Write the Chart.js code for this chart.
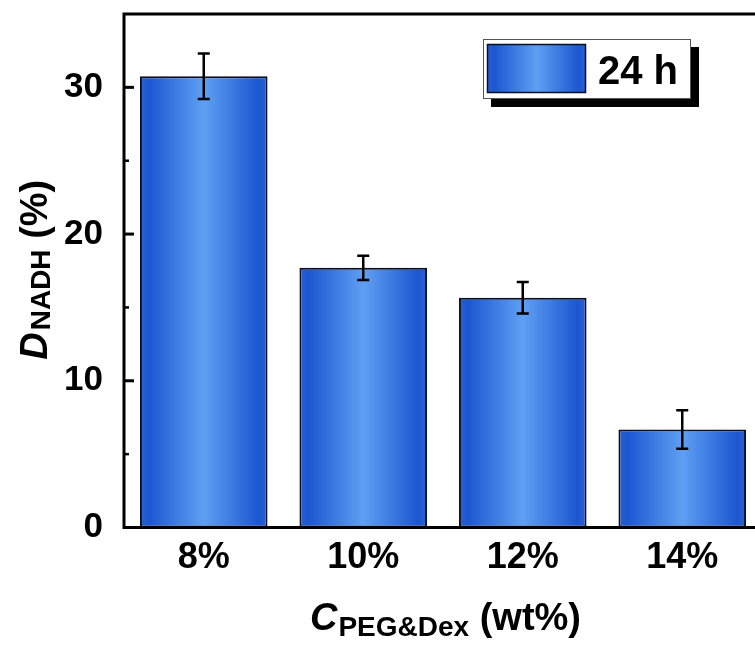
<!DOCTYPE html>
<html>
<head>
<meta charset="utf-8">
<script src="https://cdn.jsdelivr.net/npm/chart.js@4/dist/chart.umd.min.js"></script>
<style>
  html, body { margin: 0; padding: 0; overflow: hidden; background: #fff; width: 755px; height: 651px; }
  canvas { display: block; }
</style>
</head>
<body>
<canvas id="c" width="780" height="651" style="width:780px;height:651px"></canvas>
<script>
// Data
const categories = ['8%', '10%', '12%', '14%'];
const values = [30.75, 17.7, 15.66, 6.68];
const errors = [1.55, 0.83, 1.07, 1.31];
const yTickValues = [0, 10, 20, 30];
const yMinorTicks = [5, 15, 25];
const seriesLabel = '24 h';

const FONT = "'Liberation Sans', Arial, Helvetica, sans-serif";
const BAR_PCT = 0.8;

function blueGradient(ctx, x0, x1) {
  const g = ctx.createLinearGradient(x0, 0, x1, 0);
  g.addColorStop(0.00, '#2a62d2');
  g.addColorStop(0.07, '#1c57d1');
  g.addColorStop(0.50, '#5f9ff3');
  g.addColorStop(0.93, '#1c57d1');
  g.addColorStop(1.00, '#2a62d2');
  return g;
}

// Error bars, axis frame, inward ticks, legend and axis titles
const decorations = {
  id: 'decorations',
  afterDatasetsDraw(chart) {
    const { ctx, chartArea: ca, scales: { x, y } } = chart;
    ctx.save();

    // error bars
    ctx.strokeStyle = '#000';
    ctx.lineWidth = 2.5;
    values.forEach((v, i) => {
      const cx = x.getPixelForValue(i);
      const yTop = y.getPixelForValue(v + errors[i]);
      const yBot = y.getPixelForValue(v - errors[i]);
      ctx.beginPath();
      ctx.moveTo(cx, yTop); ctx.lineTo(cx, yBot);
      ctx.moveTo(cx - 6, yTop); ctx.lineTo(cx + 6, yTop);
      ctx.moveTo(cx - 6, yBot); ctx.lineTo(cx + 6, yBot);
      ctx.stroke();
    });

    // frame
    ctx.lineWidth = 3;
    ctx.beginPath();
    ctx.moveTo(ca.left, ca.top); ctx.lineTo(ca.right, ca.top);
    ctx.moveTo(ca.left, ca.top - 1.5); ctx.lineTo(ca.left, ca.bottom + 1.5);
    ctx.moveTo(ca.left, ca.bottom); ctx.lineTo(ca.right, ca.bottom);
    ctx.moveTo(ca.right, ca.top); ctx.lineTo(ca.right, ca.bottom);
    ctx.stroke();

    // inward ticks on the y axis
    ctx.lineWidth = 3;
    yTickValues.forEach(v => {
      const py = y.getPixelForValue(v);
      ctx.beginPath(); ctx.moveTo(ca.left, py); ctx.lineTo(ca.left + 10, py); ctx.stroke();
    });
    ctx.lineWidth = 2.5;
    yMinorTicks.forEach(v => {
      const py = y.getPixelForValue(v);
      ctx.beginPath(); ctx.moveTo(ca.left, py); ctx.lineTo(ca.left + 5, py); ctx.stroke();
    });

    // legend with drop shadow
    const lx = 483, ly = 39, lw = 208, lh = 60;
    ctx.fillStyle = '#000';
    ctx.fillRect(lx + 8, ly + 8, lw, lh);
    ctx.fillStyle = '#fff';
    ctx.fillRect(lx, ly, lw, lh);
    ctx.lineWidth = 1;
    ctx.strokeStyle = '#555';
    ctx.strokeRect(lx + 0.5, ly + 0.5, lw - 1, lh - 1);
    ctx.fillStyle = blueGradient(ctx, 487, 586);
    ctx.fillRect(487, 44, 99, 49);
    ctx.strokeStyle = '#0a0f24';
    ctx.lineWidth = 1.5;
    ctx.strokeRect(487.5, 44.5, 98, 48);
    ctx.fillStyle = '#000';
    ctx.font = `bold 40px ${FONT}`;
    ctx.textBaseline = 'alphabetic';
    ctx.textAlign = 'left';
    ctx.fillText(seriesLabel, 598, 84);

    // x axis title: C_PEG&Dex (wt%)
    const mainF = `bold 38px ${FONT}`;
    const italF = `italic bold 38px ${FONT}`;
    const subF = `bold 28px ${FONT}`;
    const parts = [
      { t: 'C', f: italF, dy: 0 },
      { t: 'PEG&Dex', f: subF, dy: 6 },
      { t: ' (wt%)', f: mainF, dy: 0 }
    ];
    const widths = parts.map(p => { ctx.font = p.f; return ctx.measureText(p.t).width; });
    const total = widths.reduce((a, b) => a + b, 0);
    let px = (ca.left + ca.right) / 2 - total / 2 + 2;
    const baseX = 630;
    parts.forEach((p, i) => {
      ctx.font = p.f;
      ctx.fillText(p.t, px, baseX + p.dy);
      px += widths[i] + (i === 0 ? 1 : 0);
    });

    // y axis title: D_NADH (%)
    const yparts = [
      { t: 'D', f: italF, dy: 0 },
      { t: 'NADH', f: subF, dy: 3 },
      { t: ' (%)', f: mainF, dy: 0 }
    ];
    const yw = yparts.map(p => { ctx.font = p.f; return ctx.measureText(p.t).width; });
    const ytotal = yw.reduce((a, b) => a + b, 0);
    ctx.translate(47, (ca.top + ca.bottom) / 2);
    ctx.rotate(-Math.PI / 2);
    let qx = -ytotal / 2;
    yparts.forEach((p, i) => {
      ctx.font = p.f;
      ctx.fillText(p.t, qx, p.dy);
      qx += yw[i] + (i === 0 ? 2 : 0);
    });

    ctx.restore();
  }
};

new Chart(document.getElementById('c'), {
  type: 'bar',
  data: {
    labels: categories,
    datasets: [{
      label: seriesLabel,
      data: values,
      backgroundColor(c) {
        const chart = c.chart;
        const xs = chart.scales.x;
        if (!chart.chartArea || !xs || c.dataIndex === undefined) return '#3f7fe6';
        const cx = xs.getPixelForValue(c.dataIndex);
        const half = xs.width / categories.length * BAR_PCT / 2;
        return blueGradient(chart.ctx, cx - half, cx + half);
      },
      borderColor: '#0a0f24',
      borderWidth: 2,
      borderSkipped: false,
      barPercentage: BAR_PCT,
      categoryPercentage: 1.0
    }]
  },
  options: {
    responsive: false,
    devicePixelRatio: 1,
    animation: false,
    layout: { padding: { top: 14, right: 18, bottom: 0, left: 0 } },
    plugins: { legend: { display: false }, tooltip: { enabled: false } },
    scales: {
      x: {
        grid: { display: false },
        border: { display: false },
        ticks: {
          color: '#000',
          padding: 1,
          font: { family: FONT, size: 36, weight: 'bold', lineHeight: 1.2 }
        },
        afterFit(scale) {
          scale.height = 123.5;
          scale.paddingLeft = 0; scale.paddingRight = 0;
        }
      },
      y: {
        min: 0,
        max: 35,
        grid: { display: false },
        border: { display: false },
        afterBuildTicks(scale) { scale.ticks = yTickValues.map(v => ({ value: v })); },
        ticks: {
          color: '#000',
          padding: 13,
          font: { family: FONT, size: 35, weight: 'bold' }
        },
        afterFit(scale) {
          scale.width = 124;
          scale.paddingTop = 0; scale.paddingBottom = 0;
        }
      }
    }
  },
  plugins: [decorations]
});
</script>
</body>
</html>
